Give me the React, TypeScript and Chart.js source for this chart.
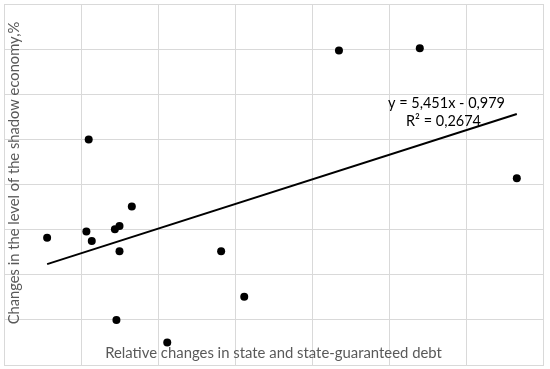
import React, { useEffect, useRef } from 'react';
import { Chart, registerables } from 'chart.js';

Chart.register(...registerables);

// Relative changes in state and state-guaranteed debt
const xValues = [-0.144, -0.090, -0.034, -0.093, -0.086, -0.056, -0.050, -0.050, -0.054, 0.012, 0.082, 0.112, 0.235, 0.340, 0.466];
// Changes in the level of the shadow economy, %
const yValues = [-1.18, 1.00, -0.49, -1.04, -1.25, -0.99, -0.92, -1.48, -3.00, -3.50, -1.48, -2.49, 2.97, 3.02, 0.14];

const trendSlope = 5.451;
const trendIntercept = -0.979;
const rSquared = '0,2674';

const xAxisTitle = 'Relative changes in state and state-guaranteed debt';
const yAxisTitle = 'Changes in the level of the shadow economy,%';
const equationLine1 = 'y = 5,451x - 0,979';
const equationLine2 = 'R² = ' + rSquared;

const FONT = 'Lato, "Open Sans", sans-serif';

function fitSize(ctx: CanvasRenderingContext2D, text: string, target: number) {
  ctx.font = `20px ${FONT}`;
  const w = ctx.measureText(text).width;
  return (20 * target) / w;
}

const labelsPlugin = {
  id: 'labels',
  afterDraw(chart: any) {
    const { ctx, chartArea, scales } = chart;
    ctx.save();
    ctx.textAlign = 'center';
    ctx.textBaseline = 'middle';

    // x title
    const xs = fitSize(ctx, xAxisTitle, 337);
    ctx.font = `${xs}px ${FONT}`;
    ctx.fillStyle = '#595959';
    ctx.fillText(xAxisTitle, (chartArea.left + chartArea.right) / 2, chartArea.bottom - 12);

    // y title
    const ys = fitSize(ctx, yAxisTitle, 303);
    ctx.save();
    ctx.translate(chartArea.left + 10.5, 173);
    ctx.rotate(-Math.PI / 2);
    ctx.font = `${ys}px ${FONT}`;
    ctx.fillText(yAxisTitle, 0, 0);
    ctx.restore();

    // trendline equation
    const es = fitSize(ctx, equationLine1, 117);
    ctx.font = `${es}px ${FONT}`;
    ctx.fillStyle = '#000000';
    const cx = scales.x.getPixelForValue(0.3747);
    const cy = scales.y.getPixelForValue(1.79);
    ctx.fillText(equationLine1, cx, cy);
    ctx.fillText(equationLine2, cx - 3, cy + 18);
    ctx.restore();
  },
};

export default function App() {
  const canvasRef = useRef<HTMLCanvasElement | null>(null);

  useEffect(() => {
    const canvas = canvasRef.current;
    if (!canvas) return;
    const xMin = Math.min(...xValues);
    const xMax = Math.max(...xValues);
    const trendData = [
      { x: xMin, y: trendSlope * xMin + trendIntercept },
      { x: xMax, y: trendSlope * xMax + trendIntercept },
    ];
    const chart = new Chart(canvas, {
      type: 'scatter',
      data: {
        datasets: [
          {
            type: 'line',
            data: trendData,
            borderColor: '#000000',
            borderWidth: 2,
            pointRadius: 0,
            fill: false,
          } as any,
          {
            data: xValues.map((x, i) => ({ x, y: yValues[i] })),
            backgroundColor: '#000000',
            borderWidth: 0,
            pointRadius: 4,
          },
        ],
      },
      options: {
        animation: false,
        responsive: false,
        layout: { padding: { left: 2, top: 4, right: 7, bottom: 2 } },
        plugins: { legend: { display: false }, tooltip: { enabled: false } },
        scales: {
          x: {
            type: 'linear',
            min: -0.2,
            max: 0.5,
            ticks: { display: false, stepSize: 0.1 },
            grid: { color: '#d9d9d9', lineWidth: 1, drawTicks: false, tickLength: 0 },
            border: { color: '#d9d9d9' },
          },
          y: {
            type: 'linear',
            min: -4,
            max: 4,
            ticks: { display: false, stepSize: 1 },
            grid: { color: '#d9d9d9', lineWidth: 1, drawTicks: false, tickLength: 0 },
            border: { color: '#d9d9d9' },
          },
        },
      },
      plugins: [labelsPlugin],
    });
    return () => chart.destroy();
  }, []);

  return (
    <div style={{ position: 'absolute', left: 0, top: 0, width: 550, height: 369, background: '#ffffff' }}>
      <canvas ref={canvasRef} width={550} height={369} />
    </div>
  );
}
